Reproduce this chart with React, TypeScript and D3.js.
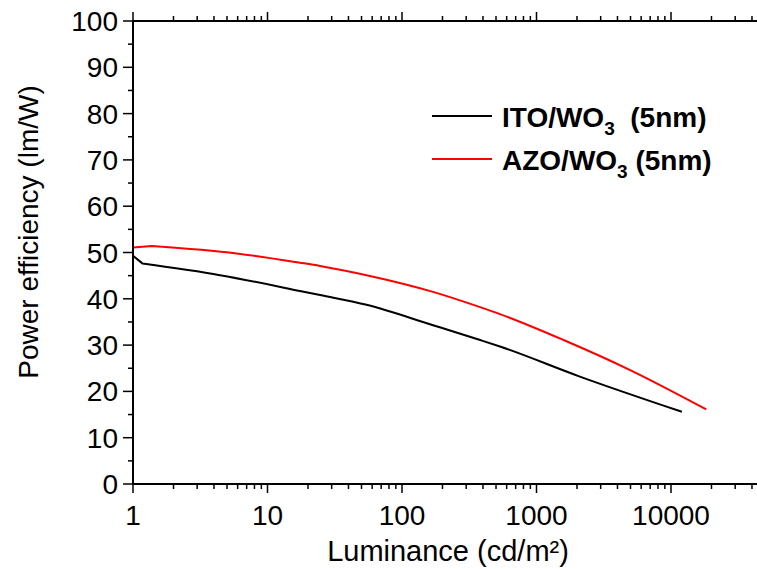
import React from "react";
import * as d3 from "d3";

const itoLum = [1, 1.18, 4.44, 17.4, 24.6, 54.5, 170, 381, 535, 2100, 12050];
const itoPE = [49.3, 47.6, 45.1, 41.7, 40.8, 38.7, 34.3, 31.1, 29.7, 23.2, 15.6];
const azoLum = [1, 1.38, 5.9, 17.4, 24.6, 54.5, 170, 381, 535, 1590, 4970, 18300];
const azoPE = [51.1, 51.4, 49.8, 47.8, 47.1, 45.1, 41.5, 38.2, 36.7, 31.1, 24.6, 16.1];
const xTickLabels = ["1", "10", "100", "1000", "10000"];
const yTickValues = [0, 10, 20, 30, 40, 50, 60, 70, 80, 90, 100];
const seriesNames = ["ITO/WO", "AZO/WO"];
const seriesColors = ["#000000", "#ff0000"];

const W = 757;
const H = 569;
const FONT = "'Liberation Sans', Arial, Helvetica, sans-serif";

export default function App() {
  const x0 = 133;
  const x1 = 760;
  const decade = 134.5;
  const x = d3
    .scaleLog()
    .domain([1, Math.pow(10, (x1 - x0) / decade)])
    .range([x0, x1]);
  const y = d3.scaleLinear().domain([0, 100]).range([484, 21]);

  const minorX: number[] = [];
  for (let e = 0; e <= 4; e++) {
    for (let m = 1; m <= 9; m++) {
      const v = m * Math.pow(10, e);
      if (v <= x.domain()[1]) minorX.push(v);
    }
  }
  const minorY = d3.range(0, 101, 5);

  const line = d3
    .line<[number, number]>()
    .x((d) => x(d[0]))
    .y((d) => y(d[1]))
    .curve(d3.curveMonotoneX);

  const series = [
    itoLum.map((l, i) => [l, itoPE[i]] as [number, number]),
    azoLum.map((l, i) => [l, azoPE[i]] as [number, number]),
  ];

  // sharp first segment, smooth remainder
  const pathFor = (s: [number, number][]) => {
    const first = s[0];
    const rest = line(s.slice(1)) || "";
    return `M${x(first[0])},${y(first[1])}L` + rest.slice(1);
  };

  const bottom = y(0);
  const top = y(100);

  return (
    <svg
      width={W}
      height={H}
      style={{ position: "absolute", left: 0, top: 0, background: "#fff" }}
      fontFamily={FONT}
    >
      <rect x={0} y={0} width={W} height={H} fill="#fff" />
      {series.map((s, i) => (
        <path
          key={i}
          d={pathFor(s)}
          fill="none"
          stroke={seriesColors[i]}
          strokeWidth={2}
          strokeLinejoin="round"
        />
      ))}
      <line x1={x0} x2={W} y1={bottom} y2={bottom} stroke="#000" strokeWidth={2} />
      {minorX.map((v, i) => {
        const major = Math.abs(Math.log10(v) - Math.round(Math.log10(v))) < 1e-9;
        return (
          <line
            key={"bx" + i}
            x1={x(v)}
            x2={x(v)}
            y1={bottom}
            y2={bottom + (major ? 9 : 5)}
            stroke="#000"
            strokeWidth={1.5}
          />
        );
      })}
      {xTickLabels.map((t, i) => (
        <text key={"xl" + i} x={x(+t)} y={525} textAnchor="middle" fontSize={28} fill="#000">
          {t}
        </text>
      ))}
      <line x1={x0} x2={W} y1={top} y2={top} stroke="#000" strokeWidth={2} />
      {minorX.map((v, i) => {
        const major = Math.abs(Math.log10(v) - Math.round(Math.log10(v))) < 1e-9;
        return (
          <line
            key={"tx" + i}
            x1={x(v)}
            x2={x(v)}
            y1={top}
            y2={top - (major ? 9 : 5)}
            stroke="#000"
            strokeWidth={1.5}
          />
        );
      })}
      <line x1={x0} x2={x0} y1={top} y2={bottom} stroke="#000" strokeWidth={2} />
      {minorY.map((v, i) => {
        const major = v % 10 === 0;
        return (
          <line
            key={"ly" + i}
            x1={x0}
            x2={x0 - (major ? 10 : 5)}
            y1={y(v)}
            y2={y(v)}
            stroke="#000"
            strokeWidth={1.5}
          />
        );
      })}
      {yTickValues.map((v, i) => (
        <text key={"yl" + i} x={118} y={y(v) + 10} textAnchor="end" fontSize={28} fill="#000">
          {v}
        </text>
      ))}
      <text x={448} y={561} textAnchor="middle" fontSize={29} fill="#000">
        Luminance (cd/m²)
      </text>
      <text
        transform={`translate(38, 232) rotate(-90)`}
        textAnchor="middle"
        fontSize={28}
        fill="#000"
      >
        Power efficiency (lm/W)
      </text>
      {seriesNames.map((n, i) => {
        const ly = 116 + i * 43;
        return (
          <g key={"lg" + i}>
            <line x1={432} x2={492} y1={ly} y2={ly} stroke={seriesColors[i]} strokeWidth={2} />
            <text x={502} y={ly + 11} fontSize={28} fontWeight="bold" fill="#000">
              {n}
              <tspan fontSize={19} dy={8}>3</tspan>
              <tspan dy={-8}>{i === 0 ? "\u00a0\u00a0(5nm)" : "\u00a0(5nm)"}</tspan>
            </text>
          </g>
        );
      })}
    </svg>
  );
}
